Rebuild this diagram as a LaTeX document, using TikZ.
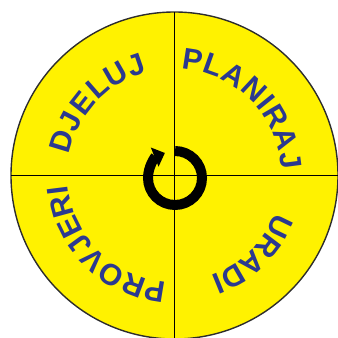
\documentclass[tikz,border=0pt]{standalone}
\usepackage{fontspec}
\usepackage{tikz}
\usetikzlibrary{decorations.text,arrows.meta}
\newfontfamily\wordfont{Liberation Sans}
\definecolor{discyellow}{RGB}{255,242,0}
\definecolor{wordblue}{RGB}{43,57,144}
\definecolor{rimgray}{RGB}{45,45,45}
% one word set on an arc, clockwise, tops outward
\newcommand\CycleWord[3]{
  \path[decorate,decoration={text effects along path,text={#3},
      text effects/.cd,text along path,fit text to path,
      every character/.style={font=\wordfont\bfseries\fontsize{30}{35}\selectfont,
        text=wordblue,inner sep=0}}]
    (c) ++(#1:107) arc[start angle=#1,end angle=#2,radius=107];
}

\begin{document}
\begin{tikzpicture}[x=1pt,y=1pt]
        \useasboundingbox (0,0) rectangle (338,338);
        \clip (0,0) rectangle (338,338);
        \coordinate (c) at (174.5,162.5);
        \node[circle,draw=rimgray,line width=1.4,fill=discyellow,
              inner sep=0,outer sep=0,minimum size=327] (disc) at (c) {};
        \draw[line width=1.3] (disc.west)--(disc.east);
        \draw[line width=1.3] (disc.north)--(disc.south);
        \CycleWord{86.5}{3}{PLANIRAJ}
        \CycleWord{-20}{-70}{URADI}
        \CycleWord{-94}{-175}{PROVJERI}
        \CycleWord{169}{104.5}{DJELUJ}
        % the cycle arrow in the middle
        \coordinate (r) at (175,160);
        \draw[line width=10,-{Triangle[length=11pt,width=20pt]}]
            (r) ++(90:27) arc[start angle=90,end angle=-248,radius=27];
    \end{tikzpicture}
\end{document}
